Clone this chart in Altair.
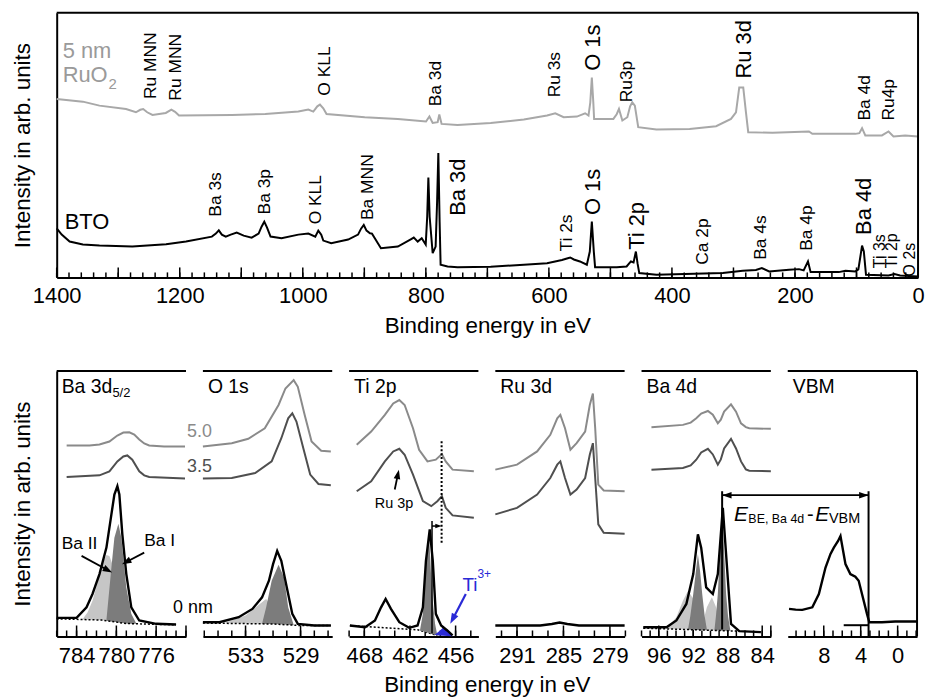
import math
import numpy as np
import pandas as pd
import altair as alt

FONT = "Liberation Sans"
BLACK = "#000000"
GREY_RU = "#a8a8a8"
GREY50 = "#8a8a8a"
GREY35 = "#4f4f4f"
LIGHT = "#c6c6c6"
DARK = "#7c7c7c"
BLUE = "#2a2ad6"

# ---------------- survey spectra (binding energy in eV, intensity in arb. units) ----------------
bto_ev = [1400.0, 1391.9, 1379.0, 1357.5, 1330.5, 1277.1, 1222.2, 1189.8, 1147.8, 1141.3, 1136.5, 1131.6, 1125.2,
          1117.1, 1107.4, 1096.1, 1083.1, 1071.8, 1067.0, 1062.6, 1058.1, 1052.4, 1034.6, 1007.2, 991.0, 979.7,
          974.8, 970.0, 966.7, 953.8, 926.3, 910.2, 905.3, 900.9, 896.4, 890.8, 887.5, 882.7, 873.0, 845.5, 824.5,
          819.6, 813.2, 806.7, 800.2, 797.8, 795.9, 793.8, 788.9, 784.1, 781.7, 779.7, 777.6, 776.0, 764.7, 748.5,
          694.6, 640.7, 603.0, 578.7, 570.7, 565.3, 559.4, 549.6, 538.3, 533.5, 530.2, 527.0, 524.9, 489.8, 473.7,
          466.7, 462.4, 458.6, 455.9, 453.1, 425.2, 317.4, 285.0, 263.5, 253.8, 242.0, 209.7, 193.5, 185.9, 178.9,
          174.6, 128.8, 118.0, 101.8, 97.0, 93.7, 91.0, 88.1, 84.6, 48.0, 38.3, 29.1, 0.0]
bto_int = [49.3, 43, 36, 33, 32, 31, 33.3, 36, 41, 44, 47.3, 43, 41,
           43, 45, 42, 40, 44, 51, 56, 50, 41, 39.3, 43, 44, 41,
           47, 43, 37, 34.3, 38, 43, 49, 52.7, 47, 44.3, 44, 39, 29.3, 31, 38.3,
           40, 36, 39.3, 33, 61, 100.3, 61, 24.3, 31, 76, 125, 56, 12.7, 11, 10.3,
           10.7, 12.7, 14.3, 17.5, 19, 20, 18, 16, 12.7, 26, 56, 26, 10.3, 10.3, 11,
           16, 15, 26, 14, 4.3, 2.7, 4.3, 6.7, 7.5, 9.3, 6, 7.7, 8.3, 7, 16,
           5.3, 5.3, 6.7, 6, 8, 21, 32, 26, 2.7, 2, 3.3, 2, 1]
ruo2_ev = [1400.0, 1357.5, 1330.5, 1287.3, 1271.2, 1264.2, 1259.4, 1252.9, 1244.3, 1222.7, 1213.6, 1207.6, 1201.2,
           1115.0, 1061.0, 1007.2, 991.0, 982.9, 976.4, 972.1, 966.7, 961.4, 899.3, 845.5, 799.7, 794.2, 788.9,
           780.8, 778.1, 774.4, 748.5, 694.6, 640.7, 603.0, 589.6, 576.0, 554.5, 541.1, 535.6, 532.7, 530.2, 527.8,
           526.5, 495.2, 489.8, 486.1, 480.6, 472.5, 468.0, 464.5, 460.3, 454.8, 425.2, 371.3, 328.2, 304.0, 295.9,
           290.6, 284.1, 279.7, 276.0, 236.5, 177.3, 171.8, 101.8, 95.4, 91.0, 85.7, 58.7, 48.0, 39.9, 21.0, 0.0]
ruo2_int = [179.3, 176.7, 172.7, 169.3, 166, 168.5, 169.3, 166, 163.3, 165.3, 168.7, 166.5, 162.7,
            163.3, 164.3, 166.7, 168.7, 166.7, 172, 173.7, 170, 164.3, 161, 159.3, 156.7, 161.7, 155.3,
            156, 163.7, 154.3, 153.3, 155.3, 158.7, 162.7, 165, 161, 161.7, 165, 162.7, 176, 201, 176,
            159.3, 159.3, 164, 169.3, 157.7, 161, 172, 176, 172.7, 151, 148.7, 149.3, 152, 159.3, 166,
            191, 191, 166, 146, 145.3, 146.7, 144.3, 144.3, 145, 150, 142.7, 142.7, 146.7, 141.7, 142.7, 141.7]

survey_tick_labels = [1400, 1200, 1000, 800, 600, 400, 200, 0]
survey_minor_ticks = list(range(0, 1401, 20))
survey_major_ticks = list(range(0, 1401, 100))

small_lbl_text = ["Ru MNN", "Ru MNN", "O KLL", "Ba 3d", "Ru 3s", "Ru3p", "Ba 4d", "Ru4p",
                  "Ba 3s", "Ba 3p", "O KLL", "Ba MNN", "Ti 2s", "Ca 2p", "Ba 4s", "Ba 4p"]
small_lbl_ev = [1246.9, 1206.5, 964.0, 783.6, 589.6, 472.5, 86.8, 46.4,
                1141.8, 1061.0, 979.2, 894.0, 570.7, 348.7, 255.4, 179.9]
small_lbl_int = [179.3, 177.7, 182.7, 172, 181, 176, 157.7, 157.7,
                 61, 63.3, 53.3, 57.7, 26, 12.7, 17.7, 26.7]
tiny_lbl_text = ["Ti 3s", "Ti 2p", "O 2s"]
tiny_lbl_ev = [61.4, 42.5, 12.9]
tiny_lbl_int = [9.3, 9.3, 1]
big_lbl_text = ["O 1s", "Ru 3d", "Ba 3d", "O 1s", "Ti 2p", "Ba 4d"]
big_lbl_ev = [527.5, 282.4, 746.9, 527.5, 457.5, 88.4]
big_lbl_int = [207.7, 200, 62, 62.7, 27.7, 42.7]

# ---------------- detail spectra ----------------
# Ba 3d5/2
ba3d_50_ev = [785.0, 782.7, 781.7, 780.7, 779.9, 779.3, 778.7, 778.2, 777.7, 777.2, 776.7, 775.2, 773.1]
ba3d_50 = [192, 192, 193, 196, 202, 205, 205.3, 203, 198, 194, 192, 191, 191]
ba3d_35_ev = [785.0, 781.7, 780.7, 779.9, 779.3, 778.9, 778.4, 777.7, 777.2, 776.7, 773.1]
ba3d_35 = [160.3, 162, 166, 176, 181, 182, 177.7, 166, 162, 160.3, 158.7]
ba3d_0_ev = [786.0, 784.0, 783.0, 782.4, 781.7, 781.0, 780.5, 780.2, 779.9, 779.7, 779.4, 779.0, 778.5, 777.7, 776.0, 774.0]
ba3d_0 = [18.7, 18.7, 29.3, 42.7, 62.7, 89.3, 122.7, 142.7, 151, 142.7, 102.7, 62.7, 29.3, 16, 12.7, 12]
ba3d_bg_ev = [786.0, 781.5, 779.0, 774.0]
ba3d_bg = [17.7, 16.5, 13.0, 11.7]
ba3d_II_ev = [783.4, 782.9, 782.4, 781.9, 781.4, 781.0, 780.7, 780.3, 779.9, 779.4, 778.9, 778.4, 778.1]
ba3d_II = [17.2, 24, 36, 54, 74, 82, 81, 70, 53, 36, 24, 16, 13]
ba3d_I_ev = [781.0, 780.5, 780.2, 779.8, 779.5, 779.0, 778.5, 778.0]
ba3d_I = [16.5, 69.3, 99.3, 113.3, 99.3, 49.3, 22.7, 13]

# O 1s
o1s_50_ev = [536.1, 534.0, 532.8, 531.6, 530.6, 530.1, 529.5, 529.2, 528.7, 528.2, 527.5, 526.8]
o1s_50 = [191, 194.3, 198.7, 209.3, 232.7, 249.3, 257.7, 251, 222.7, 196, 186.7, 186]
o1s_35_ev = [536.1, 534.0, 532.3, 531.1, 530.4, 529.9, 529.6, 529.3, 528.8, 528.3, 527.7, 526.8]
o1s_35 = [158.7, 159.3, 164.3, 176, 199.3, 219.3, 224.3, 216, 189.3, 162.7, 153.3, 152]
o1s_0_ev = [536.1, 534.9, 533.5, 532.5, 531.8, 531.3, 531.0, 530.7, 530.4, 530.0, 529.6, 529.2, 528.0, 526.8]
o1s_0 = [14.3, 14.3, 19.3, 27.7, 39.3, 56, 72.7, 86, 76, 49.3, 22.7, 12.7, 11, 11]
o1s_bg_ev = [536.1, 531.0, 529.0, 526.8]
o1s_bg = [13.5, 12.5, 11, 11]
o1s_II_ev = [534.5, 533.0, 532.1, 531.6, 531.5, 531.2, 530.8]
o1s_II = [13.8, 21, 31, 36.7, 37.7, 31, 12.5]
o1s_I_ev = [531.8, 531.5, 531.1, 530.6, 530.2, 529.9, 529.5]
o1s_I = [12.7, 29.3, 56, 72, 59.3, 29.3, 11.5]

# Ti 2p
ti_50_ev = [469.0, 467.1, 465.3, 464.2, 463.4, 462.7, 461.6, 460.8, 459.7, 458.6, 457.8, 457.3, 456.4, 453.6]
ti_50 = [192.7, 206, 222.7, 234.3, 237.7, 232.7, 209.3, 187.7, 176, 177.7, 183.3, 176, 167.7, 166]
ti_35_ev = [469.0, 467.1, 465.3, 464.2, 463.4, 462.7, 461.6, 460.3, 459.2, 458.4, 457.8, 457.3, 456.4, 453.6]
ti_35 = [146, 156, 176, 186, 188.7, 182.7, 162.7, 136, 131, 136, 141, 129.3, 121.7, 119.3]
ti_0_ev = [469.9, 467.9, 466.6, 465.8, 465.2, 464.5, 463.4, 462.1, 461.0, 460.3, 459.9, 459.4, 459.0, 458.6, 457.9, 457.1, 456.4]
ti_0 = [11, 9.3, 16, 29.3, 37.7, 27.7, 14.3, 8.7, 11, 29.3, 76, 107.7, 76, 22.7, 11, 6, 1]
ti_bg_ev = [469.9, 461.0, 458.4, 456.0]
ti_bg = [11, 6.7, 1, 0]
ti_IV_ev = [460.7, 460.3, 460.0, 459.5, 459.1, 458.7, 458.4]
ti_IV = [5.5, 22.7, 69.3, 104.3, 42.7, 12.7, 1]
ti_III_ev = [458.8, 458.2, 457.6, 457.1, 456.4]
ti_III = [1.5, 5, 9.3, 7, 0.5]

# Ru 3d
ru_ev = [293.8, 291.0, 288.4, 286.7, 285.8, 285.4, 284.8, 284.1, 283.3, 282.2, 281.6, 281.2, 280.9, 280.5, 279.8, 277.1]
ru_50 = [167.7, 172.7, 186, 202.7, 219.3, 222.7, 209.3, 187.7, 194.3, 206, 232.7, 244.3, 209.3, 152.7, 146.7, 146]
ru_35 = [122.7, 129.3, 142.7, 159.3, 172.7, 176, 159.3, 142.7, 147.7, 159.3, 182.7, 194.3, 159.3, 112.7, 104.3, 103.3]
ru_0_ev = [293.8, 288.0, 286.5, 285.5, 284.5, 283.0, 277.1]
ru_0 = [11, 11, 12.5, 14, 12.5, 11, 11]

# Ba 4d
ba4d_ev = [96.85, 93.2, 92.3, 91.65, 91.08, 90.3, 89.73, 89.15, 88.8, 88.42, 87.62, 87.04, 86.46, 85.9, 85.5, 83.0]
ba4d_50 = [210.3, 212.7, 215, 219.3, 224, 226.7, 223, 214.3, 218, 226, 233.3, 226, 214.3, 210.5, 209.3, 208.7]
ba4d_35 = [167.7, 169.3, 172, 177.7, 185, 188.7, 183, 172.7, 178, 189, 198.7, 189, 176, 168, 166.7, 166]
ba4d_0_ev = [97.8, 95.1, 93.96, 92.8, 92.0, 91.46, 91.08, 90.5, 89.73, 89.15, 88.57, 88.0, 87.62, 86.66, 84.15]
ba4d_0 = [9.3, 9.3, 16, 32.7, 62.7, 102.7, 89.3, 49.3, 42.7, 62.7, 129.3, 59.3, 12.7, 5.3, 4.3]
ba4d_bg_ev = [97.8, 86.6]
ba4d_bg = [8.3, 5.3]
ba4d_II1_ev = [95.1, 93.96, 93.2, 92.6, 91.85, 91.08]
ba4d_II1 = [7.7, 19.3, 36, 46, 36, 7.2]
ba4d_I1_ev = [92.6, 92.35, 92.0, 91.7, 91.46, 91.2, 90.96, 90.67, 90.42]
ba4d_I1 = [7.4, 20, 42.7, 65, 82.7, 65, 42.7, 20, 7.0]
ba4d_II2_ev = [91.08, 90.42, 89.84, 89.35, 88.77]
ba4d_II2 = [7.2, 29.3, 39.3, 29.3, 6.6]
ba4d_I2_ev = [89.54, 89.35, 89.15, 88.9, 88.65, 88.42, 88.19, 87.96, 87.7]
ba4d_I2 = [6.8, 22, 42.7, 85, 122.7, 85, 42.7, 20, 6.2]
ba4d_peak = 88.65

# valence band
vbm_ev = [11.76, 11.04, 10.32, 9.24, 8.53, 7.81, 7.27, 6.91, 6.45, 6.19, 5.84, 5.65, 5.12, 4.58, 4.22, 3.86,
          3.32, 3.07, 1.70, 0.27, -2.1]
vbm_int = [27.7, 27, 26.7, 29.3, 42.7, 69.3, 83, 89.3, 96, 101, 82.7, 72.7, 62.7, 60, 56, 42.7,
           22.7, 14.3, 14.3, 15, 15]
vbm_value = 3.15
vbm_fit_ev = [5.84, 3.15]

# Ti 2p markers
ti_peak_0 = 459.1
ti_peak_35 = 457.84

# ---------------- layout ----------------
TW, TH = 866, 266
BW, BH = 130, 267
GAP = 17
YB = [0, 267]


def df(**cols):
    return pd.DataFrame(cols)


ONE = df(a=[0])


def sorted_interp(x, xp, fp):
    xp = np.asarray(xp, float)
    fp = np.asarray(fp, float)
    o = np.argsort(xp)
    return np.interp(np.asarray(x, float), xp[o], fp[o])


# ---------------- top survey chart ----------------
txs = alt.Scale(domain=[1400, 0], nice=False, zero=False)
tys = alt.Scale(domain=[0, 266], nice=False, zero=False)
t_xaxis = alt.Axis(values=survey_tick_labels, format="d", ticks=False, labelFontSize=22, labelPadding=8,
                   labelFlush=False, labelOverlap=False, domainWidth=2, domainColor=BLACK, grid=False,
                   title="Binding energy in eV", titleFontSize=22.5, titleFontWeight="normal",
                   titleY=55, titleBaseline="alphabetic")
t_yaxis = alt.Axis(labels=False, ticks=False, domainWidth=2, domainColor=BLACK, grid=False,
                   title="Intensity in arb. units", titleFontSize=22.5, titleFontWeight="normal",
                   titlePadding=22)


def TX(f):
    return alt.X(f + ":Q", scale=txs, axis=t_xaxis)


def TY(f):
    return alt.Y(f + ":Q", scale=tys, axis=t_yaxis)


top_layers = [
    alt.Chart(df(ev=ruo2_ev, i=ruo2_int)).mark_line(color=GREY_RU, strokeWidth=2).encode(x=TX("ev"), y=TY("i")),
    alt.Chart(df(ev=bto_ev, i=bto_int)).mark_line(color=BLACK, strokeWidth=2).encode(x=TX("ev"), y=TY("i")),
    alt.Chart(df(t=survey_minor_ticks)).mark_rule(color=BLACK, strokeWidth=1.5).encode(
        x=TX("t"), y=alt.value(TH), y2=alt.value(TH - 5)),
    alt.Chart(df(t=survey_major_ticks)).mark_rule(color=BLACK, strokeWidth=1.5).encode(
        x=TX("t"), y=alt.value(TH), y2=alt.value(TH - 10)),
    alt.Chart(df(ev=small_lbl_ev, i=small_lbl_int, s=small_lbl_text)).mark_text(
        angle=270, align="left", baseline="middle", fontSize=17.5, font=FONT, color=BLACK).encode(
        x=TX("ev"), y=TY("i"), text="s:N"),
    alt.Chart(df(ev=tiny_lbl_ev, i=tiny_lbl_int, s=tiny_lbl_text)).mark_text(
        angle=270, align="left", baseline="middle", fontSize=16, font=FONT, color=BLACK).encode(
        x=TX("ev"), y=TY("i"), text="s:N"),
    alt.Chart(df(ev=big_lbl_ev, i=big_lbl_int, s=big_lbl_text)).mark_text(
        angle=270, align="left", baseline="middle", fontSize=22, font=FONT, color=BLACK).encode(
        x=TX("ev"), y=TY("i"), text="s:N"),
    alt.Chart(df(ev=[1390.3], i=[221])).mark_text(text="5 nm", align="left", baseline="alphabetic",
                                                  fontSize=22, font=FONT, color="#9a9a9a").encode(x=TX("ev"), y=TY("i")),
    alt.Chart(df(ev=[1390.3], i=[196])).mark_text(text="RuO", align="left", baseline="alphabetic",
                                                  fontSize=22, font=FONT, color="#9a9a9a").encode(x=TX("ev"), y=TY("i")),
    alt.Chart(df(ev=[1315.9], i=[189])).mark_text(text="2", align="left", baseline="alphabetic",
                                                  fontSize=15, font=FONT, color="#9a9a9a").encode(x=TX("ev"), y=TY("i")),
    alt.Chart(df(ev=[1387.1], i=[49])).mark_text(text="BTO", align="left", baseline="alphabetic",
                                                 fontSize=22, font=FONT, color=BLACK).encode(x=TX("ev"), y=TY("i")),
    alt.Chart(ONE).mark_rule(color=BLACK, strokeWidth=2).encode(x=alt.value(0), x2=alt.value(TW), y=alt.value(0)),
    alt.Chart(ONE).mark_rule(color=BLACK, strokeWidth=2).encode(x=alt.value(TW), y=alt.value(0), y2=alt.value(TH)),
]
top = alt.layer(*top_layers).properties(width=TW, height=TH)


# ---------------- bottom panels ----------------
class Panel:
    def __init__(self, dom, labels, minor, major, first=False, title_x=None):
        self.dom = dom
        self.xs = alt.Scale(domain=dom, nice=False, zero=False)
        self.ys = alt.Scale(domain=YB, nice=False, zero=False)
        ax = dict(values=labels, format="d", ticks=False, labelFontSize=22, labelPadding=9, labelFlush=False,
                  labelOverlap=False, domainWidth=2, domainColor=BLACK, grid=False)
        if title_x is not None:
            ax.update(title="Binding energy in eV", titleFontSize=22.5, titleFontWeight="normal",
                      titleX=title_x, titleY=55, titleAlign="center", titleBaseline="alphabetic")
        else:
            ax["title"] = None
        self.xaxis = alt.Axis(**ax)
        if first:
            self.yaxis = alt.Axis(labels=False, ticks=False, domainWidth=2, domainColor=BLACK, grid=False,
                                  title="Intensity in arb. units", titleFontSize=22.5,
                                  titleFontWeight="normal", titlePadding=22)
        else:
            self.yaxis = None
        self.layers = []
        self.layers.append(alt.Chart(df(t=minor)).mark_rule(color=BLACK, strokeWidth=1.5).encode(
            x=self.X("t"), y=alt.value(BH), y2=alt.value(BH - 6)))
        self.layers.append(alt.Chart(df(t=major)).mark_rule(color=BLACK, strokeWidth=1.5).encode(
            x=self.X("t"), y=alt.value(BH), y2=alt.value(BH - 11)))
        self.layers.append(alt.Chart(ONE).mark_rule(color=BLACK, strokeWidth=2).encode(
            x=alt.value(0), x2=alt.value(BW), y=alt.value(0)))

    def X(self, f):
        return alt.X(f + ":Q", scale=self.xs, axis=self.xaxis)

    def Y(self, f):
        return alt.Y(f + ":Q", scale=self.ys, axis=self.yaxis)

    def px(self, e):
        return (e - self.dom[0]) / (self.dom[1] - self.dom[0]) * BW

    def py(self, v):
        return BH - (v - YB[0]) / (YB[1] - YB[0]) * BH

    def ev_of(self, p):
        return self.dom[0] + p / BW * (self.dom[1] - self.dom[0])

    def int_of(self, p):
        return YB[0] + (BH - p) / BH * (YB[1] - YB[0])

    def curve(self, ev, vals, color, width=2.0, dash=None):
        kw = dict(color=color, strokeWidth=width)
        if dash:
            kw["strokeDash"] = dash
        self.layers.append(alt.Chart(df(ev=ev, i=vals)).mark_line(**kw).encode(x=self.X("ev"), y=self.Y("i")))

    def comp(self, ev, vals, bg_ev, bg, color):
        base = sorted_interp(ev, bg_ev, bg)
        self.layers.append(alt.Chart(df(ev=ev, i=vals, b=base)).mark_area(color=color, opacity=1).encode(
            x=self.X("ev"), y=self.Y("i"), y2="b:Q"))

    def vline(self, ev, i1, i2, color=BLACK, width=2, dash=None):
        kw = dict(color=color, strokeWidth=width)
        if dash:
            kw["strokeDash"] = dash
        self.layers.append(alt.Chart(df(ev=[ev], i=[i1], i2=[i2])).mark_rule(**kw).encode(
            x=self.X("ev"), y=self.Y("i"), y2="i2:Q"))

    def hline(self, ev1, ev2, i, color=BLACK, width=2):
        self.layers.append(alt.Chart(df(ev=[ev1], ev2=[ev2], i=[i])).mark_rule(color=color, strokeWidth=width).encode(
            x=self.X("ev"), x2="ev2:Q", y=self.Y("i")))

    def text(self, ev, i, txt, size, color=BLACK, align="left", baseline="middle", dx=0, italic=False):
        kw = dict(text=txt, fontSize=size, color=color, align=align, baseline=baseline, font=FONT)
        if dx:
            kw["dx"] = dx
        if italic:
            kw["fontStyle"] = "italic"
        self.layers.append(alt.Chart(df(ev=[ev], i=[i])).mark_text(**kw).encode(x=self.X("ev"), y=self.Y("i")))

    def ptext(self, x, y, txt, size, baseline="alphabetic"):
        self.layers.append(alt.Chart(ONE).mark_text(text=txt, fontSize=size, color=BLACK, align="left",
                                                    baseline=baseline, font=FONT).encode(
            x=alt.value(x), y=alt.value(y)))

    def head_at_px(self, hx, hy, ang, color, size):
        self.layers.append(alt.Chart(ONE).mark_point(
            shape="M0,-1L0.7,1L-0.7,1Z", filled=True, size=size, angle=ang, color=color, opacity=1,
            strokeWidth=0).encode(x=alt.value(hx), y=alt.value(hy)))

    def arrow(self, x1, y1, x2, y2, color=BLACK, size=90, width=1.8):
        dx = self.px(x2) - self.px(x1)
        dy = self.py(y2) - self.py(y1)
        L = math.hypot(dx, dy)
        ux, uy = dx / L, dy / L
        r = math.sqrt(size) / 2
        hxp = self.px(x2) - ux * r
        hyp = self.py(y2) - uy * r
        ang = math.degrees(math.atan2(ux, -uy)) % 360
        self.layers.append(alt.Chart(df(a=[x1], b=[y1], c=[self.ev_of(hxp)], d=[self.int_of(hyp)])).mark_rule(
            color=color, strokeWidth=width).encode(x=self.X("a"), y=self.Y("b"), x2="c:Q", y2="d:Q"))
        self.head_at_px(hxp, hyp, ang, color, size)

    def chart(self):
        return alt.layer(*self.layers).properties(width=BW, height=BH)


LINE0 = 2.4

# Ba 3d5/2
p1 = Panel([786, 773], [784, 780, 776], list(range(773, 787)), [784, 780, 776, 773], first=True)
p1.comp(ba3d_II_ev, ba3d_II, ba3d_bg_ev, ba3d_bg, LIGHT)
p1.comp(ba3d_I_ev, ba3d_I, ba3d_bg_ev, ba3d_bg, DARK)
p1.curve(ba3d_bg_ev, ba3d_bg, BLACK, 1.5, [2, 2])
p1.curve(ba3d_50_ev, ba3d_50, GREY50, 2)
p1.curve(ba3d_35_ev, ba3d_35, GREY35, 2)
p1.curve(ba3d_0_ev, ba3d_0, BLACK, LINE0)
p1.ptext(5, 22, "Ba 3d", 19.5)
p1.ptext(56, 26, "5/2", 13)
p1.text(772.9, 206, "5.0", 18, GREY50)
p1.text(772.9, 170, "3.5", 18, GREY35)
p1.text(774.3, 29, "0 nm", 18)
p1.text(785.5, 93, "Ba II", 17.5)
p1.text(777.2, 96, "Ba I", 17.5)
p1.arrow(783.5, 81, 780.43, 64.3)
p1.arrow(777.2, 84.3, 779.43, 72.7)

# O 1s
p2 = Panel([536.1, 526.7], [533, 529], list(range(527, 537)), [533, 529])
p2.comp(o1s_II_ev, o1s_II, o1s_bg_ev, o1s_bg, LIGHT)
p2.comp(o1s_I_ev, o1s_I, o1s_bg_ev, o1s_bg, DARK)
p2.curve(o1s_bg_ev, o1s_bg, BLACK, 1.5, [2, 2])
p2.curve(o1s_50_ev, o1s_50, GREY50, 2)
p2.curve(o1s_35_ev, o1s_35, GREY35, 2)
p2.curve(o1s_0_ev, o1s_0, BLACK, LINE0)
p2.ptext(5, 22, "O 1s", 19.5)

# Ti 2p
p3 = Panel([470, 453], [468, 462, 456], list(range(454, 471, 2)), [468, 462, 456],
           title_x=BW + GAP / 2)
p3.curve(ti_bg_ev[:3], ti_bg[:3], BLACK, 1.5, [2, 2])
p3.comp(ti_IV_ev, ti_IV, ti_bg_ev, ti_bg, DARK)
p3.comp(ti_III_ev, ti_III, ti_bg_ev, ti_bg, BLUE)
p3.curve(ti_50_ev, ti_50, GREY50, 2)
p3.curve(ti_35_ev, ti_35, GREY35, 2)
p3.curve(ti_0_ev, ti_0, BLACK, LINE0)
p3.vline(ti_peak_0, 3, 116, BLACK, 1.5)
p3.vline(ti_peak_35, 94.3, 197.7, BLACK, 2, [2, 2])
p3.arrow(ti_peak_0, 111, ti_peak_35, 111, BLACK, size=40, width=1.5)
p3.ptext(5, 22, "Ti 2p", 19.5)
p3.text(464.1, 133, "Ru 3p", 14.5, align="center")
p3.arrow(464.0, 147.7, 463.46, 167.7)
p3.text(455.1, 46, "Ti", 19, BLUE, baseline="alphabetic")
p3.text(453.13, 59, "3+", 12, BLUE, baseline="alphabetic")
p3.arrow(454.66, 42.7, 456.7, 12.7, BLUE, size=110, width=2.2)

# Ru 3d
p4 = Panel([293.8, 277.1], [291, 285, 279], list(range(277, 294, 2)), [291, 285, 279])
p4.curve(ru_ev, ru_50, GREY50, 2)
p4.curve(ru_ev, ru_35, GREY35, 2)
p4.curve(ru_0_ev, ru_0, BLACK, LINE0)
p4.ptext(5, 22, "Ru 3d", 19.5)

# Ba 4d
p5 = Panel([98, 83], [96, 92, 88, 84], list(range(83, 99)), [96, 92, 88, 84, 83])
p5.comp(ba4d_II1_ev, ba4d_II1, ba4d_bg_ev, ba4d_bg, LIGHT)
p5.comp(ba4d_II2_ev, ba4d_II2, ba4d_bg_ev, ba4d_bg, LIGHT)
p5.comp(ba4d_I1_ev, ba4d_I1, ba4d_bg_ev, ba4d_bg, DARK)
p5.comp(ba4d_I2_ev, ba4d_I2, ba4d_bg_ev, ba4d_bg, DARK)
p5.curve(ba4d_bg_ev, ba4d_bg, BLACK, 1.5, [2, 2])
p5.curve(ba4d_ev, ba4d_50, GREY50, 2)
p5.curve(ba4d_ev, ba4d_35, GREY35, 2)
p5.curve(ba4d_0_ev, ba4d_0, BLACK, LINE0)
p5.vline(ba4d_peak, 7, 146, BLACK, 2)
p5.ptext(5, 22, "Ba 4d", 19.5)

# VBM
VDOM = [11.9, -2.1]
p6 = Panel(VDOM, [8, 4, 0], list(range(-2, 12)), [8, 4, 0])
p6.curve(vbm_ev, vbm_int, BLACK, LINE0)
p6.hline(vbm_fit_ev[0], vbm_fit_ev[1], 11.3, BLACK, 2)
p6.vline(vbm_value, 0, 146, BLACK, 2)
p6.ptext(5, 22, "VBM", 19.5)
p6.layers.append(alt.Chart(ONE).mark_rule(color=BLACK, strokeWidth=2).encode(
    x=alt.value(BW), y=alt.value(0), y2=alt.value(BH)))

# double arrow Ba 4d peak -> VBM (drawn in the Ba 4d panel)
vbm_px_in_p5 = (BW + GAP) + (VDOM[0] - vbm_value) / (VDOM[0] - VDOM[1]) * BW
yarr = 142
r = math.sqrt(90) / 2
p5.layers.append(alt.Chart(df(ev=[ba4d_peak], i=[yarr])).mark_rule(color=BLACK, strokeWidth=1.8).encode(
    x=p5.X("ev"), x2=alt.value(vbm_px_in_p5), y=p5.Y("i")))
p5.head_at_px(p5.px(ba4d_peak) + r, p5.py(yarr), 270, BLACK, 90)
p5.head_at_px(vbm_px_in_p5 - r, p5.py(yarr), 90, BLACK, 90)
# label E_BE,Ba4d - E_VBM
lx, ly = 87.27, 116.5
p5.text(lx, ly, "E", 21, italic=True, baseline="alphabetic")
p5.text(lx, ly - 2, "BE, Ba 4d", 12.5, baseline="alphabetic", dx=14.4)
p5.text(lx, ly, "-", 20, baseline="alphabetic", dx=73.4)
p5.text(lx, ly, "E", 21, italic=True, baseline="alphabetic", dx=81.7)
p5.text(lx, ly - 2, "VBM", 14.5, baseline="alphabetic", dx=95.5)

bottom = alt.hconcat(p1.chart(), p2.chart(), p3.chart(), p4.chart(), p5.chart(), p6.chart(),
                     spacing=GAP, bounds="flush")

chart = alt.vconcat(top, bottom, spacing=33).properties(
    padding={"left": 12, "top": 10, "right": 0, "bottom": 0}
).configure_view(stroke=None).configure_axis(
    grid=False, labelFont=FONT, titleFont=FONT, labelColor=BLACK, titleColor=BLACK
).configure_text(font=FONT)

chart.save("out.html", embed_options={"renderer": "svg", "actions": False})
